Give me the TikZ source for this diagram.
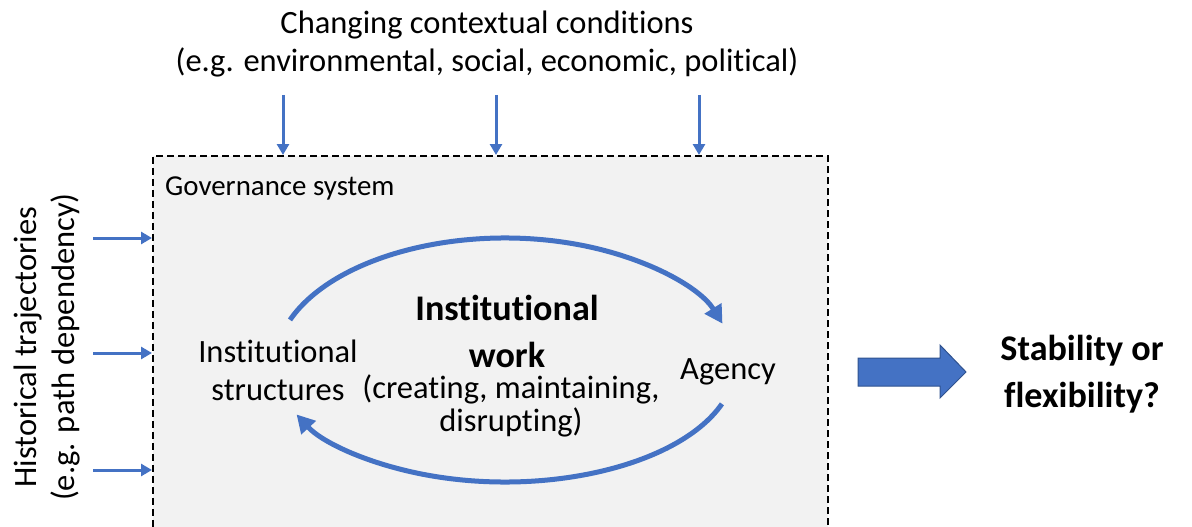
\documentclass[tikz,border=0pt]{standalone}
\usepackage{fontspec}
\setmainfont{Carlito}[Ligatures=NoCommon]
\usetikzlibrary{arrows.meta}
\definecolor{accent}{HTML}{4472C4}
\definecolor{accentdark}{HTML}{2F528F}
\definecolor{panel}{HTML}{F2F2F2}
\begin{document}
\begin{tikzpicture}[x=1pt,y=-1pt,
  txt/.style={inner sep=0pt, align=center, font=\fontsize{32.5}{38}\selectfont},
  boldtxt/.style={inner sep=0pt, align=center, font=\fontsize{36.1}{47}\selectfont\bfseries},
  small/.style={inner sep=0pt, anchor=west, font=\fontsize{28.9}{34}\selectfont},
  feed/.style={accent, line width=3pt, -{Triangle[length=11pt,width=12pt]}},
  loop/.style={accent, line width=5pt, -{Triangle[length=18pt,width=19pt]}}]
\useasboundingbox (0,0) rectangle (1192,527);
\clip (0,0) rectangle (1192,527);

% governance system panel
\node[draw, dash pattern=on 7pt off 4pt, line width=1.6pt, fill=panel,
      minimum width=675pt, minimum height=420pt, inner sep=0pt, anchor=north west]
      (gov) at (152,155) {};
\node[small] (govlbl) at (165,188) {Governance system};

% external drivers
\node[txt] (context) at (487,44) {Changing contextual conditions\\(e.g. environmental, social, economic, political)};
\node[txt, rotate=90] (history) at (47,347) {Historical trajectories\\(e.g. path dependency)};

\foreach \x/\n in {283/a,496/b,699/c} {
  \coordinate (top\n) at (\x,95);
  \draw[feed] (top\n) -- (top\n |- gov.north);
}
\foreach \y/\n in {238/a,353/b,470/c} {
  \coordinate (left\n) at (93,\y);
  \draw[feed] (left\n) -- (left\n -| gov.west);
}

% inner loop
\node[txt] (struct) at (278,370) {Institutional\\structures};
\node[txt] (agency) at (728,372) {Agency};
\node[boldtxt] (iwork) at (507,331) {Institutional\\work};
\node[txt, font=\fontsize{32.5}{33}\selectfont] (iwdesc) at (511,406) {(creating, maintaining,\\disrupting)};

\coordinate (ctr) at (505,365);
\draw[loop] ([shift={(159.2:230pt and 127pt)}]ctr) arc[start angle=159.2, end angle=19, x radius=230pt, y radius=127pt];
\draw[loop] ([shift={(-19.4:230pt and 117pt)}]ctr) arc[start angle=-19.4, end angle=-155, x radius=230pt, y radius=117pt];

% outcome
\coordinate (outa) at (858,372);
\draw[fill=accent, draw=accentdark, line width=1pt]
  (outa) ++(0,-14) -- ++(82,0) -- ++(0,-13) -- (966,372) -- (940,398) -- ++(0,-12) -- (858,386) -- cycle;
\node[boldtxt] (result) at (1082,374) {Stability or\\flexibility?};
\end{tikzpicture}
\end{document}
